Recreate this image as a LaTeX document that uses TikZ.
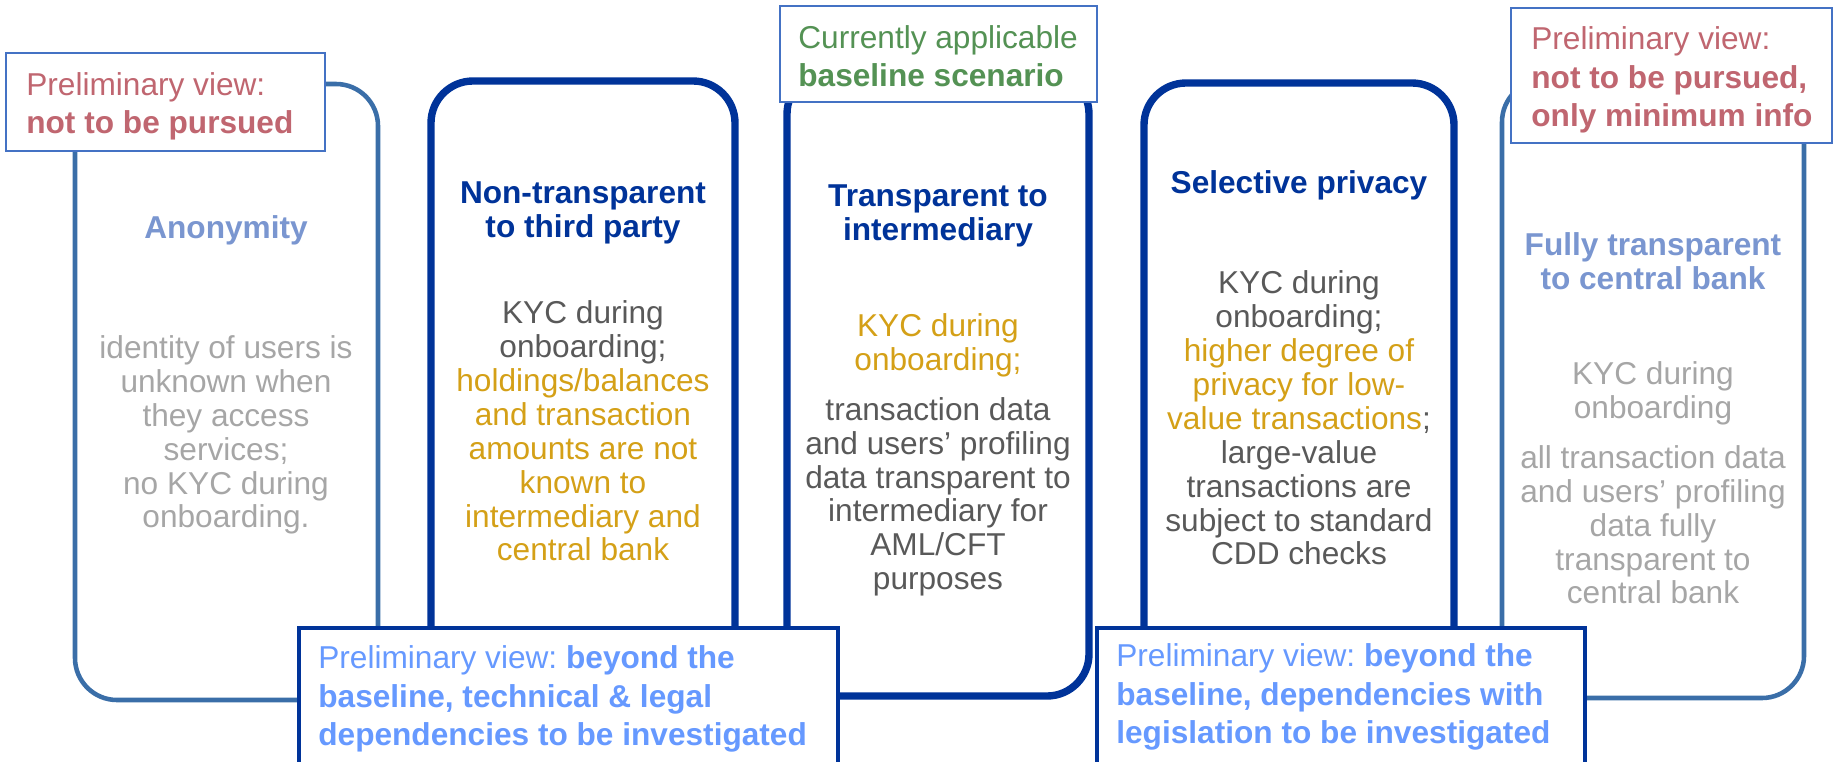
\documentclass[tikz,border=0pt]{standalone}
\usepackage{fontspec}
\setmainfont{Liberation Sans}
\definecolor{ecbdark}{RGB}{0,51,153}
\definecolor{ecbmid}{RGB}{58,110,168}
\definecolor{ecbframe}{RGB}{68,114,196}
\definecolor{ecbpale}{RGB}{122,150,208}
\definecolor{ecblight}{RGB}{102,153,255}
\definecolor{ecbred}{RGB}{192,102,112}
\definecolor{ecbgreen}{RGB}{84,146,84}
\definecolor{ecbgold}{RGB}{212,160,23}
\definecolor{ecbgrey}{RGB}{89,89,89}
\definecolor{ecbsilver}{RGB}{166,166,166}
\newcommand{\panelfont}{\fontsize{18}{19.3}\selectfont}
\newcommand{\notefont}{\fontsize{18}{21.8}\selectfont\frenchspacing}
\tikzset{
    darkpanel/.style = {draw = ecbdark, line width = 4.2pt, rounded corners = 0.84cm},
    lightpanel/.style = {draw = ecbmid, line width = 2.6pt, rounded corners = 0.84cm},
    notebox/.style = {draw = ecbframe, fill = white, line width = 0.7pt},
    bottombox/.style = {draw = ecbdark, fill = white, line width = 2.6pt}
}
\begin{document}
\begin{tikzpicture}[x = 0.02cm, y = -0.02cm]
            \useasboundingbox (0,0) rectangle (1833,761);
            \draw[lightpanel] (75,84) rectangle (378,700);
            \draw[darkpanel] (431,81) rectangle (735,700);
            \draw[darkpanel] (787,72) rectangle (1089,696);
            \draw[darkpanel] (1144,83) rectangle (1454,700);
            \draw[lightpanel] (1502,80) rectangle (1804,698);
            \draw[notebox] (6,53) rectangle (325,151);
            \draw[notebox] (780,6) rectangle (1097,102);
            \draw[notebox] (1511,8) rectangle (1832,143);
            \draw[bottombox] (299,628) rectangle (838,770);
            \draw[bottombox] (1097,628) rectangle (1585,770);
            \begin{scope}[every node/.append style = {font = \panelfont, align = center, inner sep = 0}]
                \node[text = ecbpale, font = \panelfont\bfseries] (anontitle) at (226,230) {Anonymity};
                \node[text = ecbsilver] (anontext) at (226,435) {identity of users is\\unknown when\\they access\\services;\\no KYC during\\onboarding.};
                \node[text = ecbdark, font = \panelfont\bfseries] (opaquetitle) at (583,213) {Non-transparent\\to third party};
                \node[text = ecbgrey] (opaquetext) at (583,431) {KYC during\\onboarding;\\
                    \textcolor{ecbgold}{holdings/balances}\\\textcolor{ecbgold}{and transaction}\\
                    \textcolor{ecbgold}{amounts are not}\\\textcolor{ecbgold}{known to}\\
                    \textcolor{ecbgold}{intermediary and}\\\textcolor{ecbgold}{central bank}};
                \node[text = ecbdark, font = \panelfont\bfseries] (intertitle) at (938,216) {Transparent to\\intermediary};
                \node[text = ecbgrey] (intertext) at (938,455) {\textcolor{ecbgold}{KYC during}\\\textcolor{ecbgold}{onboarding;}\\[9pt]
                    transaction data\\and users’ profiling\\data transparent to\\intermediary for\\AML/CFT\\purposes};
                \node[text = ecbdark, font = \panelfont\bfseries] (selecttitle) at (1299,185) {Selective privacy};
                \node[text = ecbgrey] (selecttext) at (1299,418) {KYC during\\onboarding;\\
                    \textcolor{ecbgold}{higher degree of}\\\textcolor{ecbgold}{privacy for low-}\\
                    \textcolor{ecbgold}{value transactions};\\large-value\\transactions are\\subject to standard\\CDD checks};
                \node[text = ecbpale, font = \panelfont\bfseries] (fulltitle) at (1653,261) {Fully transparent\\to central bank};
                \node[text = ecbsilver] (fulltext) at (1653,483) {KYC during\\onboarding\\[9pt]
                    all transaction data\\and users’ profiling\\data fully\\transparent to\\central bank};
            \end{scope}
            \begin{scope}[every node/.append style = {font = \notefont, align = left, anchor = west, inner sep = 0}]
                \node[text = ecbred] (anonnote) at (26,106) {Preliminary view:\\\textbf{not to be pursued}};
                \node[text = ecbgreen] (basenote) at (798,56) {Currently applicable\\\textbf{baseline scenario}};
                \node[text = ecbred] (fullnote) at (1531,80) {Preliminary view:\\\textbf{not to be pursued,}\\\textbf{only minimum info}};
                \node[text = ecblight] (opaquenote) at (318,699) {Preliminary view: \textbf{beyond the}\\\textbf{baseline, technical \& legal}\\\textbf{dependencies to be investigated}};
                \node[text = ecblight] (selectnote) at (1116,697) {Preliminary view: \textbf{beyond the}\\\textbf{baseline, dependencies with}\\\textbf{legislation to be investigated}};
            \end{scope}
        \end{tikzpicture}
\end{document}
